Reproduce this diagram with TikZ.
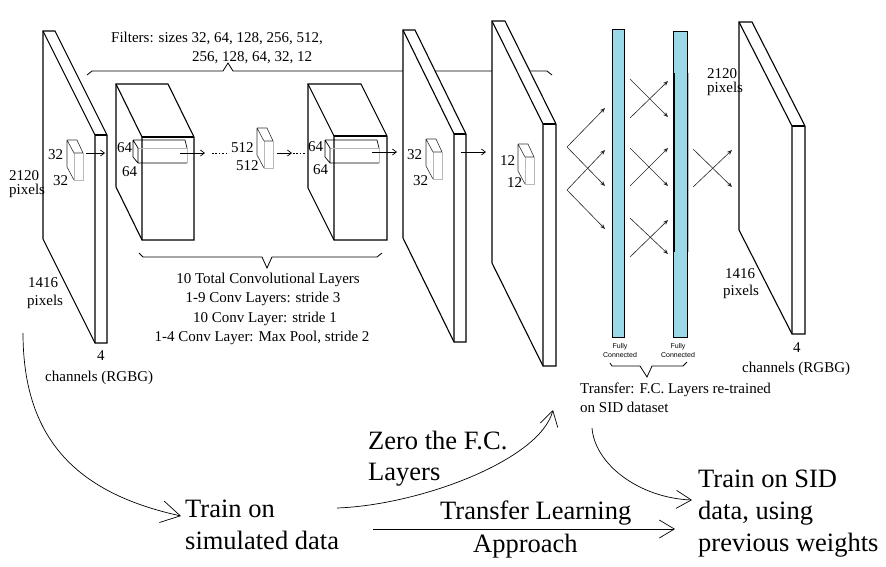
\documentclass[tikz,border=0pt]{standalone}
\usepackage{fontspec}
\setmainfont{Liberation Serif}
\newfontfamily\fcfont{Liberation Sans}
\usetikzlibrary{arrows.meta}
\definecolor{fcblue}{RGB}{155,216,232}
\definecolor{lgray}{RGB}{185,185,185}
\newcommand\layerslab[7]{%
  \coordinate (#1) at (#2,#3);
  \draw[outl, fill=white] (#1) -- ++(#4,0) -- ++(#5,#6) -- ++(0,#7) -- ++(-#4,0) -- ++(-#5,-#6) -- cycle;
  \draw[outl] (#1) -- ++(#5,#6) -- ++(0,#7);
  \draw[outl] (#1) ++(#5,#6) -- ++(#4,0);
}
\begin{document}
\begin{tikzpicture}[x=1pt,y=-1pt,
  outl/.style={line width=1.1pt, line join=miter},
  sm/.style={font=\fontsize{15}{18}\selectfont, inner sep=0pt, anchor=base west},
  smc/.style={font=\fontsize{15}{18}\selectfont, inner sep=0pt, anchor=base},
  big/.style={font=\fontsize{26.5}{32}\selectfont, inner sep=0pt, anchor=base west},
  fct/.style={font=\fcfont\fontsize{7}{9}\selectfont, inner sep=0pt, anchor=base},
  conv/.style={-{Straight Barb[length=4pt,width=6pt]}, line width=0.7pt},
  fcarr/.style={-{Stealth[length=5pt,width=4pt]}, line width=0.6pt, black!85},
  flow/.style={-{Straight Barb[length=15pt,width=18pt]}, line width=0.7pt},
  brace/.style={line width=0.8pt, line join=miter},
  filt/.pic={
    \draw[line width=0.6pt, lgray] (7,13) -- (7,40) -- (16,40) -- (16,13);
    \draw[line width=0.6pt, black!80] (7,13) -- (16,13) (0,0) -- (10,0) -- (16,13) (0,0) -- (7,13) (0,0) -- (0,27) -- (7,40);
  },
  wfilt/.pic={
    \draw[line width=0.6pt, lgray] (5,8) -- (54,8) -- (54,23);
    \draw[line width=0.7pt] (0,0) -- (52,0) -- (54,8) (0,0) -- (5,8) -- (5,23) -- (54,23) (0,0) -- (0,17) -- (5,23);
  }
]
\useasboundingbox (0,0) rectangle (886,566);

% top brace (occluded by slabs)
\draw[brace] (87,75) -- (92,71) -- (223,71) -- (228,63) -- (233,71) -- (547,71) -- (552,75);
\node[sm] (filt1) at (111,42) {Filters: sizes 32, 64, 128, 256, 512,};
\node[sm] (filt2) at (192,61) {256, 128, 64, 32, 12};

% slabs and cubes
\layerslab{in}{43}{31}{12}{52}{104}{208}
\layerslab{c1}{116}{84}{52}{26}{53}{103}
\layerslab{c2}{308}{84}{53}{26}{52}{104}
\layerslab{s3}{403}{30}{12}{51}{104}{208}
\layerslab{s4}{492}{21}{13}{51}{103}{242}
\layerslab{s6}{739}{22}{13}{53}{104}{208}

% filters
\pic at (67,140) {filt};
\pic at (257,128) {filt};
\pic at (426,139) {filt};
\pic at (518,144) {filt};
\pic at (133,140) {wfilt};
\pic at (325,140) {wfilt};

% filter labels
\node[sm] (l1a) at (48,159) {32};
\node[sm] (l1b) at (53,185) {32};
\node[sm] (l2a) at (117,152) {64};
\node[sm] (l2b) at (122,176) {64};
\node[sm] (l3a) at (231,152) {512};
\node[sm] (l3b) at (236,170) {512};
\node[sm] (l4a) at (308,151) {64};
\node[sm] (l4b) at (313,174) {64};
\node[sm] (l5a) at (407,159) {32};
\node[sm] (l5b) at (413,185) {32};
\node[sm] (l6a) at (500,165) {12};
\node[sm] (l6b) at (507,187) {12};

% conv arrows
\coordinate (a1s) at (86,153);  \coordinate (a1e) at (105,153);
\coordinate (a2s) at (180,153); \coordinate (a2e) at (205,153);
\coordinate (d1s) at (212,153); \coordinate (d1e) at (228,153);
\coordinate (a3s) at (277,153); \coordinate (a3e) at (292,153);
\coordinate (d2s) at (293,153); \coordinate (d2e) at (305,153);
\coordinate (a4s) at (372,152); \coordinate (a4e) at (397,152);
\coordinate (a5s) at (461,152); \coordinate (a5e) at (486,152);
\draw[conv] (a1s) -- (a1e);
\draw[conv] (a2s) -- (a2e);
\draw[line width=0.7pt, dash pattern=on 1.6pt off 1.8pt] (d1s) -- (d1e);
\draw[conv] (a3s) -- (a3e);
\draw[line width=0.7pt, dash pattern=on 1.6pt off 1.8pt] (d2s) -- (d2e);
\draw[conv] (a4s) -- (a4e);
\draw[conv] (a5s) -- (a5e);

% side labels
\node[sm] (p1a) at (9,180) {2120};
\node[sm] (p1b) at (9,194) {pixels};
\node[sm] (p2a) at (28,287) {1416};
\node[sm] (p2b) at (27,305) {pixels};
\node[sm] (ch1a) at (97,360) {4};
\node[sm] (ch1b) at (45,381) {channels (RGBG)};
\node[sm] (p3a) at (707,78) {2120};
\node[sm] (p3b) at (707,92) {pixels};
\node[sm] (p4a) at (725,278) {1416};
\node[sm] (p4b) at (723,295) {pixels};
\node[sm] (ch2a) at (793,352) {4};
\node[sm] (ch2b) at (742,372) {channels (RGBG)};

% conv brace and text
\draw[brace] (139,253) -- (143,257) -- (262,257) -- (267,268) -- (272,257) -- (377,257) -- (382,253);
\node[smc] (cv1) at (268,283) {10 Total Convolutional Layers};
\node[smc] (cv2) at (263,302) {1-9 Conv Layers: stride 3};
\node[smc] (cv3) at (265,322) {10 Conv Layer: stride 1};
\node[smc] (cv4) at (262,341) {1-4 Conv Layer: Max Pool, stride 2};

% fully connected bars
\draw[line width=1pt, fill=fcblue] (612,29) rectangle (624,337);
\draw[line width=1pt, fill=fcblue] (673,31) rectangle (687,337);
\draw[line width=1.8pt] (674,73) -- (674,252);
\draw[line width=0.6pt, lgray] (688.5,73) -- (688.5,252);
\node[fct] (fc1a) at (620,348) {Fully};
\node[fct] (fc1b) at (620,357) {Connected};
\node[fct] (fc2a) at (678,348) {Fully};
\node[fct] (fc2b) at (678,357) {Connected};

% fc arrows
\coordinate (xa) at (567,147); \coordinate (xb) at (567,190);
\coordinate (t1) at (605,108); \coordinate (t2) at (605,186);
\coordinate (t3) at (605,150); \coordinate (t4) at (605,229);
\draw[fcarr] (xa) -- (t1);
\draw[fcarr] (xa) -- (t2);
\draw[fcarr] (xb) -- (t3);
\draw[fcarr] (xb) -- (t4);
\coordinate (m1s) at (630,79);  \coordinate (m1e) at (668,117);
\coordinate (m2s) at (630,118); \coordinate (m2e) at (668,81);
\coordinate (m3s) at (630,148); \coordinate (m3e) at (668,186);
\coordinate (m4s) at (630,186); \coordinate (m4e) at (668,148);
\coordinate (m5s) at (630,218); \coordinate (m5e) at (668,254);
\coordinate (m6s) at (630,257); \coordinate (m6e) at (668,220);
\draw[fcarr] (m1s) -- (m1e);
\draw[fcarr] (m2s) -- (m2e);
\draw[fcarr] (m3s) -- (m3e);
\draw[fcarr] (m4s) -- (m4e);
\draw[fcarr] (m5s) -- (m5e);
\draw[fcarr] (m6s) -- (m6e);
\coordinate (r1s) at (693,149); \coordinate (r1e) at (732,187);
\coordinate (r2s) at (693,187); \coordinate (r2e) at (732,150);
\draw[fcarr] (r1s) -- (r1e);
\draw[fcarr] (r2s) -- (r2e);

% fc brace and text
\draw[brace] (610,363) -- (612,366) -- (640,366) -- (647,377) -- (652,366) -- (683,366) -- (687,362);
\node[sm] (tr1) at (580,393) {Transfer: F.C. Layers re-trained};
\node[sm] (tr2) at (580,412) {on SID dataset};

% bottom flow texts
\node[big] (ts1) at (185,517) {Train on};
\node[big] (ts2) at (185,549) {simulated data};
\node[big] (z1) at (368,449) {Zero the F.C.};
\node[big] (z2) at (368,480) {Layers};
\node[big] (tl1) at (440,519) {Transfer Learning};
\node[big] (tl2) at (473,552) {Approach};
\node[big] (sid1) at (698,487) {Train on SID};
\node[big] (sid2) at (698,519) {data, using};
\node[big] (sid3) at (698,551) {previous weights};

% flow arrows
\coordinate (f1s) at (23,333);  \coordinate (f1e) at (181,516);
\coordinate (f2s) at (337,508); \coordinate (f2e) at (553,410);
\coordinate (f3s) at (592,428); \coordinate (f3e) at (692,500);
\coordinate (f4s) at (373,529); \coordinate (f4e) at (675,529);
\draw[flow, -{Straight Barb[length=19pt,width=22pt]}] (f1s) .. controls (23,443) and (81,494) .. (f1e);
\draw[flow] (f2s) .. controls (420,505) and (540,460) .. (f2e);
\draw[flow] (f3s) .. controls (595,465) and (640,498) .. (f3e);
\draw[flow] (f4s) -- (f4e);
\end{tikzpicture}
\end{document}
